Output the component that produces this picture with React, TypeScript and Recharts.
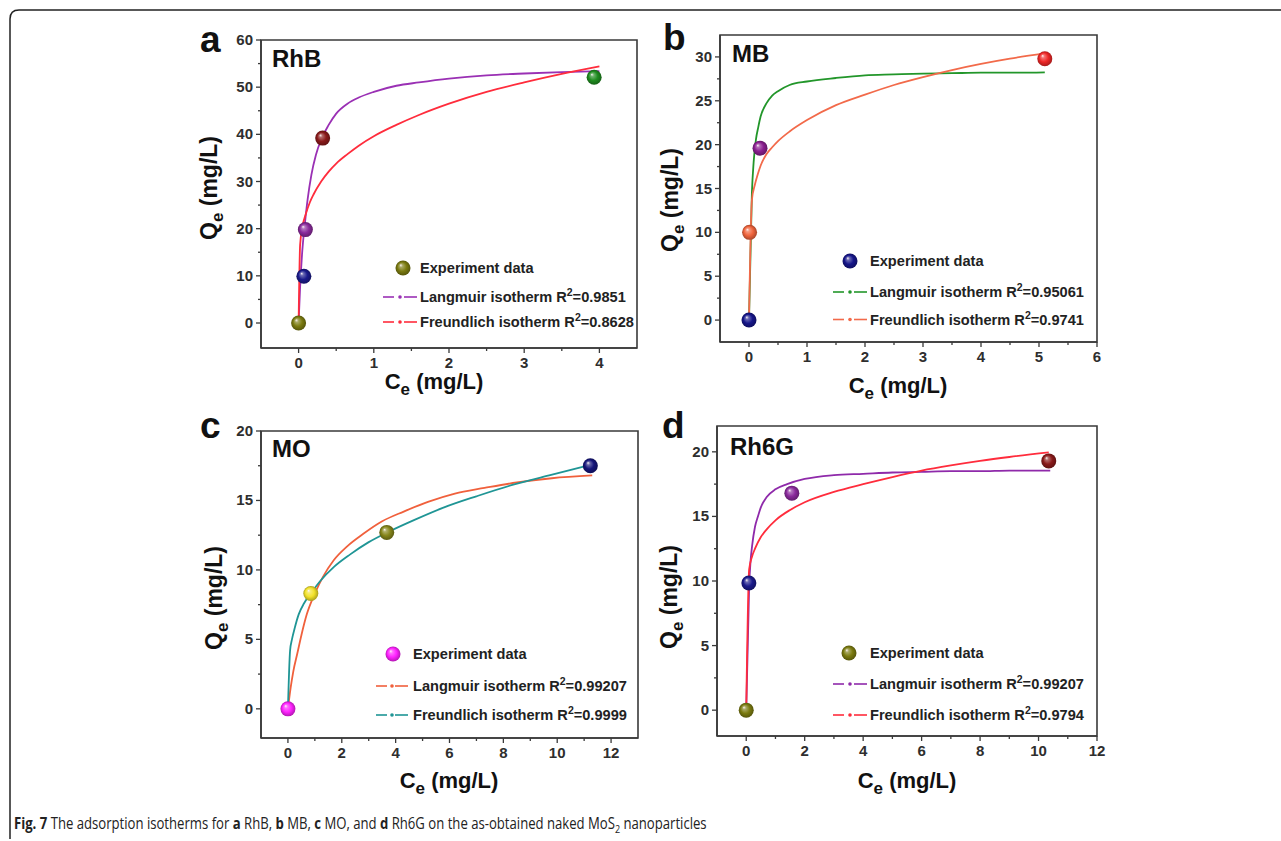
import React from "react";
import { ComposedChart, XAxis, YAxis, Scatter, Line, Cell, ReferenceArea, Legend } from "recharts";

type Pt = { x: number; y: number };

// (a) RhB
const rhbExperiment: Pt[] = [
  { x: 0, y: 0 }, { x: 0.07, y: 9.9 }, { x: 0.09, y: 19.8 }, { x: 0.32, y: 39.2 }, { x: 3.93, y: 52.1 },
];
const rhbLangmuir: Pt[] = [
  { x: 0, y: 0 }, { x: 0.02, y: 7.6 }, { x: 0.05, y: 15.5 }, { x: 0.08, y: 20.5 }, { x: 0.12, y: 26.2 },
  { x: 0.17, y: 31.4 }, { x: 0.23, y: 35.6 }, { x: 0.3, y: 38.9 }, { x: 0.4, y: 42.0 }, { x: 0.5, y: 44.4 },
  { x: 0.65, y: 46.5 }, { x: 0.8, y: 47.8 }, { x: 1.0, y: 49.0 }, { x: 1.3, y: 50.3 }, { x: 1.6, y: 51.0 },
  { x: 2.0, y: 51.8 }, { x: 2.5, y: 52.5 }, { x: 3.0, y: 52.9 }, { x: 3.5, y: 53.2 }, { x: 4.0, y: 53.4 },
];
const rhbFreundlich: Pt[] = [
  { x: 0, y: 0 }, { x: 0.02, y: 16.5 }, { x: 0.05, y: 20.3 }, { x: 0.1, y: 23.3 }, { x: 0.15, y: 25.6 },
  { x: 0.2, y: 27.3 }, { x: 0.3, y: 30.0 }, { x: 0.4, y: 32.1 }, { x: 0.5, y: 33.8 }, { x: 0.65, y: 35.8 },
  { x: 0.8, y: 37.6 }, { x: 1.0, y: 39.6 }, { x: 1.3, y: 42.0 }, { x: 1.6, y: 44.1 }, { x: 2.0, y: 46.5 },
  { x: 2.5, y: 49.0 }, { x: 3.0, y: 51.0 }, { x: 3.5, y: 52.8 }, { x: 4.0, y: 54.4 },
];
const rhbR2 = ["0.9851", "0.8628"];

// (b) MB
const mbExperiment: Pt[] = [
  { x: 0, y: 0 }, { x: 0.01, y: 10 }, { x: 0.19, y: 19.6 }, { x: 5.1, y: 29.8 },
];
const mbLangmuir: Pt[] = [
  { x: 0, y: 0 }, { x: 0.05, y: 14.5 }, { x: 0.08, y: 18.0 }, { x: 0.12, y: 20.6 }, { x: 0.16, y: 22.0 },
  { x: 0.2, y: 23.2 }, { x: 0.3, y: 24.7 }, { x: 0.4, y: 25.6 }, { x: 0.5, y: 26.1 }, { x: 0.7, y: 26.8 },
  { x: 1.0, y: 27.2 }, { x: 1.5, y: 27.6 }, { x: 2.0, y: 27.9 }, { x: 2.5, y: 28.0 }, { x: 3.0, y: 28.1 },
  { x: 3.5, y: 28.15 }, { x: 4.0, y: 28.2 }, { x: 4.5, y: 28.2 }, { x: 5.1, y: 28.25 },
];
const mbFreundlich: Pt[] = [
  { x: 0, y: 0 }, { x: 0.05, y: 13.7 }, { x: 0.1, y: 15.4 }, { x: 0.15, y: 16.6 }, { x: 0.2, y: 17.6 },
  { x: 0.3, y: 18.9 }, { x: 0.4, y: 19.7 }, { x: 0.5, y: 20.4 }, { x: 0.7, y: 21.5 }, { x: 1.0, y: 22.8 },
  { x: 1.5, y: 24.5 }, { x: 2.0, y: 25.7 }, { x: 2.5, y: 26.8 }, { x: 3.0, y: 27.7 }, { x: 3.5, y: 28.5 },
  { x: 4.0, y: 29.2 }, { x: 4.5, y: 29.8 }, { x: 5.1, y: 30.4 },
];
const mbR2 = ["0.95061", "0.9741"];

// (c) MO
const moExperiment: Pt[] = [
  { x: 0, y: 0 }, { x: 0.85, y: 8.3 }, { x: 3.67, y: 12.7 }, { x: 11.23, y: 17.5 },
];
const moLangmuir: Pt[] = [
  { x: 0, y: 0 }, { x: 0.1, y: 1.5 }, { x: 0.2, y: 2.7 }, { x: 0.35, y: 4.0 }, { x: 0.5, y: 5.3 },
  { x: 0.7, y: 6.8 }, { x: 1.0, y: 8.3 }, { x: 1.3, y: 9.5 }, { x: 1.7, y: 10.7 }, { x: 2.2, y: 11.7 },
  { x: 2.8, y: 12.6 }, { x: 3.5, y: 13.5 }, { x: 4.3, y: 14.2 }, { x: 5.2, y: 14.9 }, { x: 6.2, y: 15.5 },
  { x: 7.3, y: 15.9 }, { x: 8.5, y: 16.3 }, { x: 9.8, y: 16.6 }, { x: 11.3, y: 16.8 },
];
const moFreundlich: Pt[] = [
  { x: 0, y: 0 }, { x: 0.08, y: 4.2 }, { x: 0.15, y: 5.0 }, { x: 0.25, y: 5.8 }, { x: 0.4, y: 6.8 },
  { x: 0.6, y: 7.6 }, { x: 0.85, y: 8.3 }, { x: 1.2, y: 9.2 }, { x: 1.7, y: 10.2 }, { x: 2.3, y: 11.1 },
  { x: 3.0, y: 12.0 }, { x: 3.8, y: 12.8 }, { x: 4.7, y: 13.6 }, { x: 5.8, y: 14.5 }, { x: 7.0, y: 15.3 },
  { x: 8.3, y: 16.1 }, { x: 9.7, y: 16.8 }, { x: 11.2, y: 17.55 },
];
const moR2 = ["0.99207", "0.9999"];

// (d) Rh6G
const rh6gExperiment: Pt[] = [
  { x: 0, y: 0 }, { x: 0.09, y: 9.85 }, { x: 1.56, y: 16.8 }, { x: 10.35, y: 19.3 },
];
const rh6gLangmuir: Pt[] = [
  { x: 0, y: 0 }, { x: 0.1, y: 9.6 }, { x: 0.15, y: 11.6 }, { x: 0.2, y: 12.7 }, { x: 0.3, y: 14.2 },
  { x: 0.4, y: 15.0 }, { x: 0.5, y: 15.7 }, { x: 0.7, y: 16.5 }, { x: 1.0, y: 17.1 }, { x: 1.4, y: 17.5 },
  { x: 2.0, y: 17.9 }, { x: 3.0, y: 18.2 }, { x: 4.0, y: 18.3 }, { x: 5.0, y: 18.4 }, { x: 6.0, y: 18.45 },
  { x: 7.0, y: 18.5 }, { x: 8.0, y: 18.5 }, { x: 9.0, y: 18.55 }, { x: 10.4, y: 18.55 },
];
const rh6gFreundlich: Pt[] = [
  { x: 0, y: 0 }, { x: 0.1, y: 10.9 }, { x: 0.2, y: 11.9 }, { x: 0.3, y: 12.5 }, { x: 0.5, y: 13.4 },
  { x: 0.7, y: 14.0 }, { x: 1.0, y: 14.7 }, { x: 1.5, y: 15.5 }, { x: 2.0, y: 16.1 }, { x: 3.0, y: 16.9 },
  { x: 4.0, y: 17.5 }, { x: 5.0, y: 18.05 }, { x: 6.0, y: 18.55 }, { x: 7.0, y: 18.95 }, { x: 8.0, y: 19.3 },
  { x: 9.0, y: 19.6 }, { x: 10.35, y: 19.95 },
];
const rh6gR2 = ["0.99207", "0.9794"];

const legendNames = ["Experiment data", "Langmuir isotherm", "Freundlich isotherm"];

// tick values
const rhbXMajor = [0, 1, 2, 3, 4];
const rhbXMinor = [0.5, 1.5, 2.5, 3.5];
const rhbYMajor = [0, 10, 20, 30, 40, 50, 60];
const rhbYMinor = [5, 15, 25, 35, 45, 55];
const mbXMajor = [0, 1, 2, 3, 4, 5, 6];
const mbXMinor = [0.5, 1.5, 2.5, 3.5, 4.5, 5.5];
const mbYMajor = [0, 5, 10, 15, 20, 25, 30];
const mbYMinor = [2.5, 7.5, 12.5, 17.5, 22.5, 27.5];
const c12XMajor = [0, 2, 4, 6, 8, 10, 12];
const c12XMinor = [1, 3, 5, 7, 9, 11];
const c20YMajor = [0, 5, 10, 15, 20];
const c20YMinor = [2.5, 7.5, 12.5, 17.5];

const AXIS = "#3a3a3a";
const FONT = '"Liberation Sans", Arial, Helvetica, sans-serif';

const mix = (hex: string, to: number, t: number) => {
  const n = parseInt(hex.slice(1), 16);
  const ch = [(n >> 16) & 255, (n >> 8) & 255, n & 255].map((c) => Math.round(c + (to - c) * t));
  return `rgb(${ch.join(",")})`;
};

const Ball = ({ cx, cy, fill, r = 7.5 }: any) => {
  if (cx == null || cy == null || !fill) return null;
  const id = `ball${String(fill).replace(/[^a-z0-9]/gi, "")}`;
  return (
    <g>
      <defs>
        <radialGradient id={id} cx="50%" cy="50%" r="50%" fx="34%" fy="30%">
          <stop offset="0%" stopColor="#fff6f6" />
          <stop offset="22%" stopColor={mix(fill, 255, 0.35)} />
          <stop offset="60%" stopColor={fill} />
          <stop offset="100%" stopColor={mix(fill, 0, 0.3)} />
        </radialGradient>
      </defs>
      <circle cx={cx} cy={cy} r={r} fill={`url(#${id})`} />
    </g>
  );
};

const renderXTick = (props: any, major: number[]) => {
  const { x, y, payload } = props;
  const isMajor = major.includes(payload.value);
  return (
    <g>
      <line x1={x} x2={x} y1={y} y2={y + (isMajor ? 5 : 3)} stroke={AXIS} strokeWidth={1.3} />
      {isMajor && (
        <text x={x} y={y + 20} textAnchor="middle" fontSize={15} fontWeight="bold" fill="#2e2e2e" fontFamily={FONT}>
          {payload.value}
        </text>
      )}
    </g>
  );
};

const renderYTick = (props: any, major: number[]) => {
  const { x, y, payload } = props;
  const isMajor = major.includes(payload.value);
  return (
    <g>
      <line x1={x} x2={x - (isMajor ? 5 : 3)} y1={y} y2={y} stroke={AXIS} strokeWidth={1.3} />
      {isMajor && (
        <text x={x - 8} y={y + 5} textAnchor="end" fontSize={15} fontWeight="bold" fill="#2e2e2e" fontFamily={FONT}>
          {payload.value}
        </text>
      )}
    </g>
  );
};

const panels = [
  {
    letter: "a", title: "RhB",
    exp: rhbExperiment, lang: rhbLangmuir, freu: rhbFreundlich, r2: rhbR2,
    colors: ["#7b7b10", "#1b1b8c", "#8a2a9c", "#8a1a1a", "#1f8c1f"],
    langColor: "#9a30b4", freuColor: "#ff2c3c",
    xDomain: [-0.5, 4.5], yDomain: [-5.3, 60],
    xMajor: rhbXMajor, xMinor: rhbXMinor, yMajor: rhbYMajor, yMinor: rhbYMinor,
    plot: [261, 40, 637, 348],
    legend: { mx: 403, my: 268, tx: 17, rows: [29, 54], line: [-20, 14] },
    letterPos: [200, 52], titlePos: [272, 67], yLab: [217, 188], xLab: [434, 389],
  },
  {
    letter: "b", title: "MB",
    exp: mbExperiment, lang: mbLangmuir, freu: mbFreundlich, r2: mbR2,
    colors: ["#16168a", "#f0643c", "#8a1f90", "#ee2626"],
    langColor: "#22962a", freuColor: "#f26a4a",
    xDomain: [-0.5, 6], yDomain: [-2.5, 32.5],
    xMajor: mbXMajor, xMinor: mbXMinor, yMajor: mbYMajor, yMinor: mbYMinor,
    plot: [720, 35, 1097, 342],
    legend: { mx: 850, my: 261, tx: 20, rows: [31, 58.5], line: [-17, 17] },
    letterPos: [663, 50], titlePos: [732, 62], yLab: [678, 200], xLab: [898, 393],
  },
  {
    letter: "c", title: "MO",
    exp: moExperiment, lang: moLangmuir, freu: moFreundlich, r2: moR2,
    colors: ["#ff22ff", "#f2e22a", "#85851a", "#15157a"],
    langColor: "#f0603c", freuColor: "#1f9595",
    xDomain: [-1, 13], yDomain: [-2.1, 20],
    xMajor: c12XMajor, xMinor: c12XMinor, yMajor: c20YMajor, yMinor: c20YMinor,
    plot: [261, 431, 638, 738],
    legend: { mx: 393, my: 654, tx: 20, rows: [32, 61], line: [-17, 15] },
    letterPos: [200, 438], titlePos: [272, 457], yLab: [222, 598], xLab: [449, 788],
  },
  {
    letter: "d", title: "Rh6G",
    exp: rh6gExperiment, lang: rh6gLangmuir, freu: rh6gFreundlich, r2: rh6gR2,
    colors: ["#7b7b10", "#1b1b8c", "#8a2a9c", "#8a1a1a"],
    langColor: "#8f2aaa", freuColor: "#ff2c3c",
    xDomain: [-1, 12], yDomain: [-2, 22],
    xMajor: c12XMajor, xMinor: c12XMinor, yMajor: c20YMajor, yMinor: c20YMinor,
    plot: [717, 426, 1097, 736],
    legend: { mx: 849, my: 653, tx: 21, rows: [31, 62], line: [-16, 18] },
    letterPos: [662, 438], titlePos: [730, 455], yLab: [677, 597], xLab: [907, 788],
  },
];

type PanelCfg = (typeof panels)[number];

const PanelLegend = ({ p }: { p: PanelCfg }) => {
  const { tx, rows, line } = p.legend;
  const mx = 30;
  const my = 14;
  const lineRow = (dy: number, color: string, label: string, r2: string) => (
    <g>
      <line x1={mx + line[0]} x2={mx + line[0] + 11} y1={my + dy} y2={my + dy} stroke={color} strokeWidth={1.6} />
      <circle cx={mx + (line[0] + line[1]) / 2} cy={my + dy} r={1.8} fill={color} />
      <line x1={mx + line[1] - 13} x2={mx + line[1]} y1={my + dy} y2={my + dy} stroke={color} strokeWidth={1.6} />
      <text x={mx + tx} y={my + dy + 5} fontSize={14.6} fontWeight="bold" fill="#222" fontFamily={FONT}>
        {label} R<tspan dy={-6} fontSize={10.5}>2</tspan>
        <tspan dy={6}>={r2}</tspan>
      </text>
    </g>
  );
  return (
    <svg width={300} height={95} style={{ overflow: "visible" }}>
      <Ball cx={mx} cy={my} fill={p.colors[0]} />
      <text x={mx + tx} y={my + 5} fontSize={14.6} fontWeight="bold" fill="#222" fontFamily={FONT}>
        {legendNames[0]}
      </text>
      {lineRow(rows[0], p.langColor, legendNames[1], p.r2[0])}
      {lineRow(rows[1], p.freuColor, legendNames[2], p.r2[1])}
    </svg>
  );
};

const Panel = ({ p }: { p: PanelCfg }) => {
  const [pl, pt, pr, pb] = p.plot;
  const L = pl - 45;
  const T = pt - 10;
  const W = pr + 12 - L;
  const H = pb + 35 - T;
  const xTicks = [...p.xMajor, ...p.xMinor].sort((a, b) => a - b);
  const yTicks = [...p.yMajor, ...p.yMinor].sort((a, b) => a - b);
  return (
    <div style={{ position: "absolute", left: L, top: T }}>
      <ComposedChart width={W} height={H} margin={{ top: 10, right: 12, bottom: 5, left: 0 }}>
        <XAxis
          type="number"
          dataKey="x"
          domain={p.xDomain}
          ticks={xTicks}
          interval={0}
          tickSize={0}
          tickMargin={0}
          tickLine={false}
          axisLine={{ stroke: AXIS, strokeWidth: 1.6 }}
          tick={(t: any) => renderXTick(t, p.xMajor)}
          height={30}
          allowDataOverflow
        />
        <YAxis
          type="number"
          dataKey="y"
          domain={p.yDomain}
          ticks={yTicks}
          interval={0}
          tickSize={0}
          tickMargin={0}
          tickLine={false}
          axisLine={{ stroke: AXIS, strokeWidth: 1.6 }}
          tick={(t: any) => renderYTick(t, p.yMajor)}
          width={45}
          allowDataOverflow
        />
        <ReferenceArea
          x1={p.xDomain[0]}
          x2={p.xDomain[1]}
          y1={p.yDomain[0]}
          y2={p.yDomain[1]}
          fill="none"
          fillOpacity={0}
          stroke={AXIS}
          strokeWidth={1.6}
        />
        <Scatter data={p.exp} shape={(s: any) => <Ball {...s} />} isAnimationActive={false}>
          {p.exp.map((_, i) => (
            <Cell key={`pt-${i}`} fill={p.colors[i]} />
          ))}
        </Scatter>
        <Line
          data={p.lang}
          dataKey="y"
          type="monotone"
          stroke={p.langColor}
          strokeWidth={1.8}
          dot={false}
          isAnimationActive={false}
        />
        <Line
          data={p.freu}
          dataKey="y"
          type="monotone"
          stroke={p.freuColor}
          strokeWidth={1.8}
          dot={false}
          isAnimationActive={false}
        />
        <Legend
          layout="horizontal"
          verticalAlign="middle"
          align="center"
          wrapperStyle={{ left: p.legend.mx - 30 - L, top: p.legend.my - 14 - T, width: 300, height: 95 }}
          content={() => <PanelLegend p={p} />}
        />
      </ComposedChart>
    </div>
  );
};

const App = () => (
  <div style={{ position: "absolute", left: 0, top: 0, width: 1281, height: 841, background: "#fff", fontFamily: FONT }}>
    {panels.map((p) => (
      <Panel key={p.letter} p={p} />
    ))}
    <svg width={1281} height={841} style={{ position: "absolute", left: 0, top: 0, pointerEvents: "none" }}>
      <path d="M 10 839 L 10 19 Q 10 10 19 10 L 1281 10" fill="none" stroke="#222" strokeWidth={1.5} />
      {panels.map((p) => (
        <g key={`t-${p.letter}`} fontFamily={FONT} fontWeight="bold" fill="#111">
          <text x={p.letterPos[0]} y={p.letterPos[1]} fontSize={37}>
            {p.letter}
          </text>
          <text x={p.titlePos[0]} y={p.titlePos[1]} fontSize={24}>
            {p.title}
          </text>
          <text
            transform={`translate(${p.yLab[0]},${p.yLab[1]}) rotate(-90)`}
            textAnchor="middle"
            fontSize={23}
          >
            Q<tspan dy={6} fontSize={17}>e</tspan>
            <tspan dy={-6}> (mg/L)</tspan>
          </text>
          <text x={p.xLab[0]} y={p.xLab[1]} textAnchor="middle" fontSize={22}>
            C<tspan dy={6} fontSize={17}>e</tspan>
            <tspan dy={-6}> (mg/L)</tspan>
          </text>
        </g>
      ))}
    </svg>
    <div
      style={{
        position: "absolute",
        left: 14,
        top: 813,
        fontFamily: '"Open Sans", sans-serif',
        fontSize: 16,
        lineHeight: "20px",
        color: "#222",
        whiteSpace: "nowrap",
        transform: "scaleX(0.82)",
        transformOrigin: "left center",
      }}
    >
      <b>Fig. 7</b> The adsorption isotherms for <b>a</b> RhB, <b>b</b> MB, <b>c</b> MO, and <b>d</b> Rh6G on the
      as-obtained naked MoS<sub style={{ fontSize: 11, lineHeight: 0 }}>2</sub> nanoparticles
    </div>
  </div>
);

export default App;
